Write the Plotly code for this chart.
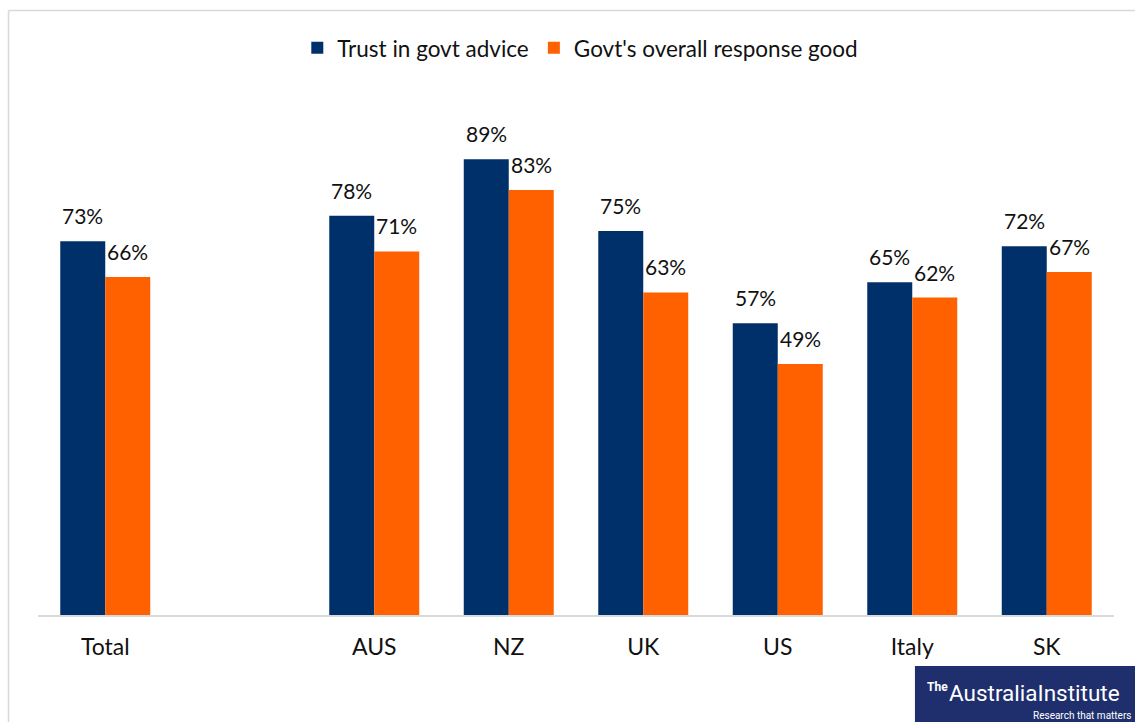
import plotly.graph_objects as go

# Survey results by country
categories = ["Total", "AUS", "NZ", "UK", "US", "Italy", "SK"]
slots = ["Total", " ", "AUS", "NZ", "UK", "US", "Italy", "SK"]  # blank slot after Total
trust = [73, 78, 89, 75, 57, 65, 72]
response = [66, 71, 83, 63, 49, 62, 67]
series_names = ["Trust in govt advice", "Govt's overall response good"]
series_values = [trust, response]
colors = ["#003069", "#FF6000"]

FONT = "Lato, Calibri, sans-serif"
BARGAP = 0.331

fig = go.Figure()
for name, vals, col in zip(series_names, series_values, colors):
    fig.add_trace(go.Bar(
        x=categories, y=vals, name=name,
        marker=dict(color=col, line=dict(width=0)),
        hoverinfo="x+y+name",
    ))

# value labels above each bar
annotations = []
half = (1 - BARGAP) / 4
for j, vals in enumerate(series_values):
    off = -half if j == 0 else half
    for cat, v in zip(categories, vals):
        annotations.append(dict(
            x=slots.index(cat) + off, y=v, xref="x", yref="y",
            text=f"{v}%", showarrow=False, yanchor="bottom", yshift=11,
            font=dict(family=FONT, size=21, color="#111111"),
        ))

# publisher badge
annotations += [
    dict(x=0.8245, y=-0.141, xref="paper", yref="paper", text="<b>The</b>",
         showarrow=False, xanchor="left", yanchor="middle",
         font=dict(family="Roboto, sans-serif", size=12, color="white")),
    dict(x=0.8445, y=-0.152, xref="paper", yref="paper", text="AustraliaInstitute",
         showarrow=False, xanchor="left", yanchor="middle",
         font=dict(family="Roboto, sans-serif", size=22.5, color="white")),
    dict(x=1.018, y=-0.197, xref="paper", yref="paper", text="Research that matters",
         showarrow=False, xanchor="right", yanchor="middle",
         font=dict(family="Roboto, sans-serif", size=10, color="white")),
]

shapes = [
    # frame edges
    dict(type="line", xref="paper", yref="paper", x0=-0.0274, x1=1.05, y0=1.1807, y1=1.1807,
         line=dict(color="#d9d9d9", width=1.5)),
    dict(type="line", xref="paper", yref="paper", x0=-0.0274, x1=-0.0274, y0=1.1807, y1=-0.22,
         line=dict(color="#d9d9d9", width=1.5)),
    # badge background
    dict(type="rect", xref="paper", yref="paper", x0=0.815, x1=1.03, y0=-0.0996, y1=-0.22,
         fillcolor="#1f2f6e", line=dict(width=0), layer="above"),
]

fig.update_layout(
    width=1135, height=722,
    margin=dict(l=38, r=21, t=103, b=107),
    paper_bgcolor="white", plot_bgcolor="white",
    barmode="group", bargap=BARGAP, bargroupgap=0,
    font=dict(family=FONT, size=20, color="#111111"),
    showlegend=True,
    legend=dict(orientation="h", x=0.504, xanchor="center", y=1.107, yanchor="middle",
                font=dict(family=FONT, size=22.5, color="#111111"),
                itemwidth=30, traceorder="normal"),
    xaxis=dict(type="category", categoryorder="array", categoryarray=slots,
               range=[-0.5, len(slots) - 0.5], showgrid=False, zeroline=False,
               showline=True, linecolor="#d9d9d9", linewidth=2, ticks="",
               ticklabelstandoff=10, tickfont=dict(family=FONT, size=23, color="#111111")),
    yaxis=dict(range=[0, 100], visible=False, showgrid=False, zeroline=False),
    annotations=annotations,
    shapes=shapes,
)

fig.write_html("out.html")
